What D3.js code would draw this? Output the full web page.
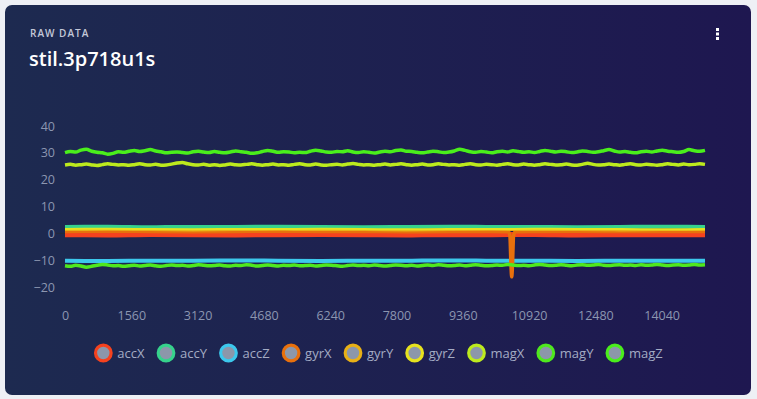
<!DOCTYPE html>
<html>
<head>
<meta charset="utf-8">
<script src="https://cdn.jsdelivr.net/npm/d3@7"></script>
<style>
  body { margin: 0; background: #eef0f5; font-family: "Open Sans", sans-serif; }
  svg { display: block; }
</style>
</head>
<body>
<svg id="chart"></svg>
<script>
const width = 757;
const height = 399;

const seriesNames = ["accX", "accY", "accZ", "gyrX", "gyrY", "gyrZ", "magX", "magY", "magZ"];
const seriesColors = ["#f5421e", "#36d28c", "#3cc8ec", "#e8700c", "#e8b016", "#e6e21e", "#bdea1e", "#4fe81e", "#4aee1c"];
const yTicks = [40, 30, 20, 10, 0, -10, -20];
const xTicks = [0, 1560, 3120, 4680, 6240, 7800, 9360, 10920, 12480, 14040];

// sample index for the flat channels
const tFlat = [0, 1004, 2008, 3012, 4016, 5020, 6024, 7028, 8032, 9036, 10040, 11044, 12048, 13052, 14056, 15060];
const accX = [-0.5, -0.6, -0.4, -0.5, -0.6, -0.5, -0.4, -0.5, -0.6, -0.5, -0.5, -0.4, -0.6, -0.5, -0.5, -0.5];
const accY = [2.4, 2.5, 2.3, 2.4, 2.4, 2.5, 2.4, 2.3, 2.4, 2.5, 2.4, 2.4, 2.3, 2.4, 2.5, 2.4];
const accZ = [-10.2, -10.3, -10.2, -10.2, -10.1, -10.2, -10.3, -10.2, -10.2, -10.1, -10.2, -10.2, -10.3, -10.2, -10.2, -10.2];
const gyrY = [1.2, 1.3, 1.2, 1.1, 1.2, 1.3, 1.2, 1.2, 1.1, 1.2, 1.3, 1.2, 1.2, 1.1, 1.2, 1.2];
const gyrZ = [1.6, 1.7, 1.6, 1.5, 1.6, 1.6, 1.7, 1.6, 1.5, 1.6, 1.6, 1.7, 1.6, 1.6, 1.5, 1.6];

// gyrX has the dip near sample 10510
const tGyrX = [0, 1004, 2008, 3012, 4016, 5020, 6024, 7028, 8032, 9036, 10040, 10440, 10470, 10480, 10490, 10500, 10512, 10524, 10534, 10544, 10554, 10590, 11044, 12048, 13052, 14056, 15060];
const gyrX = [0.7, 0.8, 0.7, 0.6, 0.7, 0.8, 0.7, 0.7, 0.6, 0.7, 0.7, 0.6, -1.0, -5.0, -10.0, -14.0, -16.2, -14.0, -10.0, -5.0, -1.0, 0.6, 0.7, 0.8, 0.7, 0.7, 0.7];

// wavy magnetometer channels, one value every 125.5 samples
const tWave = d3.range(0, 15061, 125.5);
const magX = [25.5,25.7,25.4,25.6,25.8,25.5,25.3,25.6,25.9,25.7,25.5,25.6,25.4,25.6,25.9,25.6,25.5,25.7,25.4,25.5,
  25.8,26.2,26.4,25.9,25.6,25.5,25.7,25.4,25.6,25.3,25.5,25.8,25.6,25.5,25.7,25.9,25.6,25.4,25.6,25.8,
  25.5,25.6,25.4,25.7,25.9,25.6,25.5,25.8,25.5,25.4,25.6,25.7,25.5,25.8,26.0,25.7,25.5,25.6,25.4,25.6,
  25.8,25.5,25.7,25.9,25.6,25.4,25.6,25.8,25.5,25.6,25.9,25.7,25.5,25.6,25.4,25.7,25.9,25.6,25.5,25.7,
  25.6,25.4,25.7,25.9,25.6,25.5,25.8,25.6,25.4,25.6,25.9,25.7,25.5,25.6,25.8,25.5,25.4,25.7,26.1,25.7,
  25.5,25.6,25.8,25.6,25.4,25.7,25.9,25.6,25.5,25.7,25.6,25.4,25.6,25.9,25.7,25.5,25.8,25.6,25.7,25.9,25.7];
const magY = [-12.1,-12.3,-11.9,-12.2,-12.6,-12.3,-11.9,-11.6,-11.8,-12.1,-12.0,-12.3,-12.1,-11.9,-12.2,-12.0,-11.8,-12.1,-12.3,-12.0,
  -11.8,-12.0,-11.9,-12.2,-12.0,-11.7,-11.9,-12.1,-12.0,-11.8,-12.1,-12.2,-11.9,-12.0,-11.7,-11.9,-12.2,-12.0,-11.8,-12.0,
  -12.2,-11.9,-12.0,-11.8,-12.1,-12.0,-11.9,-12.2,-12.0,-11.8,-11.9,-12.1,-12.3,-12.0,-11.8,-12.0,-11.9,-12.1,-11.8,-12.0,
  -12.2,-12.0,-11.8,-11.9,-12.1,-11.9,-12.2,-12.0,-11.8,-12.0,-11.7,-11.9,-12.1,-12.0,-11.8,-12.1,-11.9,-11.7,-11.9,-12.1,
  -12.0,-11.8,-11.9,-11.6,-11.8,-12.0,-11.9,-12.1,-11.8,-11.6,-11.8,-12.0,-11.9,-11.7,-11.9,-12.1,-11.8,-11.7,-11.9,-11.8,
  -11.6,-11.9,-12.0,-11.8,-11.7,-11.9,-11.8,-12.0,-11.7,-11.9,-11.8,-11.6,-11.8,-12.0,-11.8,-11.7,-11.9,-11.8,-11.6,-11.8,-11.7];
const magZ = [30.1,30.5,30.3,31.0,31.3,30.6,30.2,30.0,29.5,29.8,30.4,30.2,30.6,30.9,30.5,30.8,31.2,30.7,30.4,30.0,
  30.2,30.3,30.1,29.9,30.4,30.6,30.3,30.1,30.5,30.2,30.0,30.3,30.7,30.4,30.2,29.8,30.0,30.5,30.9,30.6,
  30.2,30.4,30.3,30.0,30.2,30.1,30.6,31.0,30.7,30.3,30.2,30.5,30.4,30.8,30.3,30.1,30.4,30.2,29.9,30.3,
  30.6,30.4,30.9,31.1,30.6,30.5,30.2,30.0,30.3,30.6,30.4,30.1,30.3,30.7,31.3,30.9,30.4,30.2,30.5,30.3,
  30.0,30.4,30.6,30.3,30.8,30.5,30.2,30.4,30.1,30.5,30.9,30.6,30.3,30.6,30.4,30.1,30.3,30.7,30.5,30.2,
  30.4,30.8,31.2,30.7,30.3,30.5,30.2,30.0,30.4,30.6,30.3,30.7,31.0,30.6,30.4,30.2,30.5,31.2,30.8,30.6,30.9];

const series = [
  { name: "accX", t: tFlat, v: accX, w: 5 },
  { name: "accY", t: tFlat, v: accY, w: 4 },
  { name: "accZ", t: tFlat, v: accZ, w: 4 },
  { name: "gyrX", t: tGyrX, v: gyrX, w: 3.5 },
  { name: "gyrY", t: tFlat, v: gyrY, w: 2 },
  { name: "gyrZ", t: tFlat, v: gyrZ, w: 2 },
  { name: "magX", t: tWave, v: magX, w: 3.5 },
  { name: "magY", t: tWave, v: magY, w: 3.5 },
  { name: "magZ", t: tWave, v: magZ, w: 3.5 }
];

const svg = d3.select("#chart").attr("width", width).attr("height", height);

// card
const defs = svg.append("defs");
const grad = defs.append("linearGradient").attr("id", "cardGrad").attr("x1", "0%").attr("x2", "100%");
grad.append("stop").attr("offset", "0%").attr("stop-color", "#1d2a50");
grad.append("stop").attr("offset", "100%").attr("stop-color", "#1e1750");

svg.append("rect")
  .attr("x", 5).attr("y", 5)
  .attr("width", 746).attr("height", 390)
  .attr("rx", 7)
  .attr("fill", "url(#cardGrad)");

svg.append("text")
  .attr("x", 30).attr("y", 37)
  .attr("fill", "#c3c8d8")
  .attr("font-size", 10)
  .attr("font-weight", 600)
  .attr("letter-spacing", 1)
  .text("RAW DATA");

svg.append("text")
  .attr("x", 29).attr("y", 66)
  .attr("fill", "#ffffff")
  .attr("font-size", 20)
  .attr("font-weight", 600)
  .text("stil.3p718u1s");

// kebab menu
svg.append("g").selectAll("rect")
  .data([0, 1, 2])
  .join("rect")
  .attr("x", 716).attr("y", (d) => 28 + d * 4.5)
  .attr("width", 3).attr("height", 3)
  .attr("fill", "#ffffff");

// scales
const xScale = d3.scaleLinear().domain([0, 15060]).range([65, 705]);
const yScale = d3.scaleLinear().domain([-20, 40]).range([287, 126]);

const yAxis = d3.axisLeft(yScale).tickValues(yTicks).tickSize(0).tickPadding(0);
const xAxis = d3.axisBottom(xScale).tickValues(xTicks).tickSize(0).tickPadding(0).tickFormat(d3.format("d"));

const gy = svg.append("g").attr("transform", "translate(55, 0)").call(yAxis);
const gx = svg.append("g").attr("transform", "translate(0, 311)").call(xAxis);
[gx, gy].forEach((g) => {
  g.select(".domain").remove();
  g.selectAll("text")
    .attr("fill", "#8c96b0")
    .attr("font-size", 12.5)
    .attr("font-family", "Open Sans, sans-serif");
});

// zero baseline
svg.append("line")
  .attr("x1", 56).attr("x2", xScale(15060))
  .attr("y1", yScale(0)).attr("y2", yScale(0))
  .attr("stroke", "#252a3a").attr("stroke-width", 1);

const line = d3.line()
  .x((d) => xScale(d[0]))
  .y((d) => yScale(d[1]))
  .curve(d3.curveMonotoneX);

svg.append("g").selectAll("path")
  .data(series)
  .join("path")
  .attr("d", (s) => line(s.t.map((t, i) => [t, s.v[i]])))
  .attr("fill", "none")
  .attr("stroke", (s) => seriesColors[seriesNames.indexOf(s.name)])
  .attr("stroke-width", (s) => s.w)
  .attr("stroke-linejoin", "round");

// legend
const legend = svg.append("g");
let cursor = 0;
seriesNames.forEach((name, i) => {
  const item = legend.append("g").attr("transform", `translate(${cursor}, 0)`);
  item.append("circle")
    .attr("cx", 9).attr("cy", 0).attr("r", 7.8)
    .attr("fill", "#8c97aa")
    .attr("stroke", seriesColors[i])
    .attr("stroke-width", 3.2);
  const label = item.append("text")
    .attr("x", 23).attr("y", 4.5)
    .attr("fill", "#a4acc4")
    .attr("font-size", 13)
    .text(name);
  cursor += 23 + label.node().getComputedTextLength() + 12.5;
});
const legendWidth = cursor - 12.5;
legend.attr("transform", `translate(${(width - legendWidth) / 2}, 353)`);
</script>
</body>
</html>
